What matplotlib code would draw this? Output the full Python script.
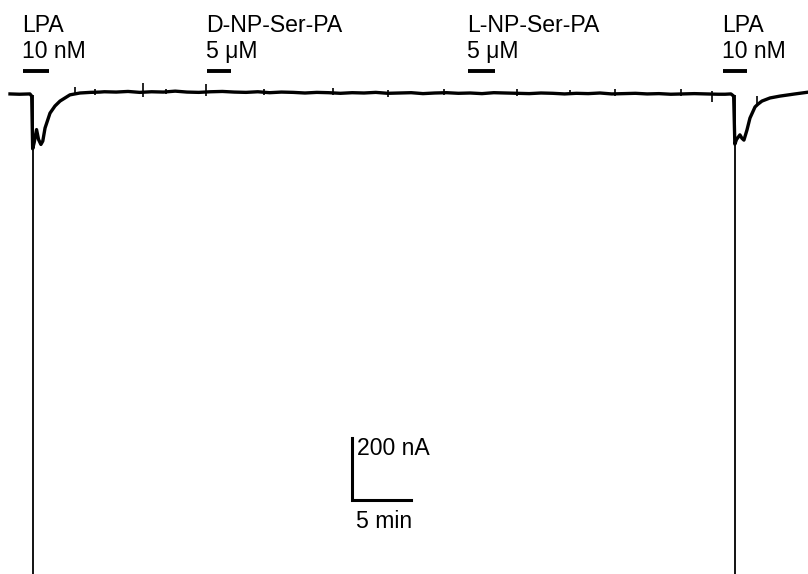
import matplotlib.pyplot as plt
import numpy as np

plt.rcParams['font.family'] = ['Liberation Sans', 'DejaVu Sans']

# 记录数据：时间 (min) / 电流 (nA)，向下为内向电流
t_start = [0.0, 0.8, 1.69, 1.84, 1.92, 2.05, 2.25, 2.42, 2.62, 2.78,
           2.97, 3.39, 3.81, 4.24, 4.66, 5.08, 5.50, 5.93, 6.8, 7.63]
i_start = [-3, -4, -3, -10, -180, -160, -118, -150, -166, -155,
           -113, -65, -42, -26, -16, -6, -3, 0, 2, 3]

# 平台段，每分钟取一个点
t_flat = list(range(8, 61))
i_flat = [4, 3, 5, 2, 4, 3, 6, 3, 2, 4, 5, 3, 2, 4, 1, 3, 2, 0, 2, 1,
          -1, 1, 0, 2, -1, 0, 1, -2, 0, 1, -1, 0, -2, 1, 0, -1, -2, 0, -1, -3,
          -1, -2, 0, -3, -2, -1, -3, -2, -4, -3, -2, -3, -4]

t_end = [60.6, 61.1, 61.33, 61.43, 61.57, 61.86, 62.03, 62.20,
         62.46, 62.71, 63.14, 63.39, 63.73, 64.41, 65.25, 66.53, 67.7]
i_end = [-4, -3, -10, -165, -150, -135, -146, -152,
         -119, -81, -45, -36, -26, -16, -10, -3, 3]

# 峰值（超出画面）
peak_t = [1.92, 61.43]
peak_top = [-5, -5]
peak_i = [-2400, -2400]

# 噪声尖峰
spike_t = [5.5, 7.2, 11.3, 13.2, 16.6, 21.5, 27.4, 32.0, 36.8, 43.0, 47.5, 51.3, 56.9, 59.5, 63.35]
spike_lo = [-8, -6, -12, -4, -10, -6, -8, -12, -6, -9, -7, -10, -9, -30, -40]
spike_hi = [18, 14, 32, 12, 28, 12, 16, 10, 14, 12, 10, 14, 12, 6, -10]

# 给药标记：名称、浓度、起止时间
drug_names = ['LPA', 'D-NP-Ser-PA', 'L-NP-Ser-PA', 'LPA']
drug_conc = ['10 nM', '5 μM', '5 μM', '10 nM']
drug_on = [1.10, 16.7, 38.8, 60.4]
drug_off = [3.31, 18.7, 41.1, 62.5]

# 比例尺
bar_t, bar_i = 28.98, -1313
bar_dt, bar_di = 5, 200

fig = plt.figure(figsize=(8.08, 5.74), dpi=100)
ax = fig.add_axes([0, 0, 1, 1])

t = t_start + t_flat + t_end
i = i_start + i_flat + i_end
ax.plot(t, i, color='black', lw=2.4, solid_joinstyle='round')
ax.vlines(peak_t, peak_i, peak_top, color='black', lw=1.3)
ax.vlines(spike_t, spike_lo, spike_hi, color='black', lw=1.2)

for name, conc, t0, t1 in zip(drug_names, drug_conc, drug_on, drug_off):
    ax.plot([t0, t1], [72, 72], color='black', lw=2.8, solid_capstyle='butt')
    ax.text(t0 - 0.08, 197, name, fontsize=16.6, ha='left', va='baseline')
    ax.text(t0 - 0.08, 113, conc, fontsize=16.6, ha='left', va='baseline')

ax.plot([bar_t, bar_t, bar_t + bar_dt], [bar_i + bar_di, bar_i, bar_i],
        color='black', lw=2.2, solid_joinstyle='miter')
ax.text(bar_t + 0.45, bar_i + 145, '200 nA', fontsize=16.6, ha='left', va='baseline')
ax.text(bar_t + 0.35, bar_i - 90, '5 min', fontsize=16.6, ha='left', va='baseline')

ax.set_xlim(-0.847, 67.63)
ax.set_ylim(-1551.6, 300)
ax.axis('off')

plt.savefig('out.png', dpi=100)
